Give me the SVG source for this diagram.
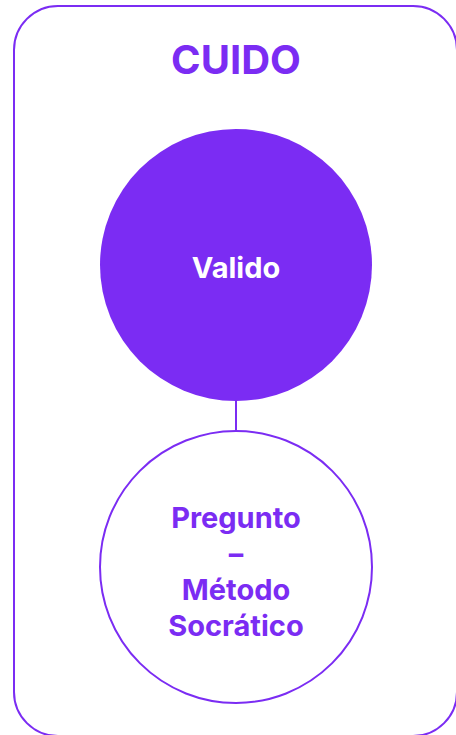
<svg xmlns="http://www.w3.org/2000/svg" width="456" height="735" viewBox="0 0 456 735">
<style>
.t{font-family:Inter,"Noto Sans","Liberation Sans",sans-serif;font-weight:700;text-anchor:middle}
.p{fill:#7b2cf3}
</style>
<rect width="456" height="735" fill="#ffffff"/>
<g id="frame">
<rect x="14" y="6" width="443" height="730" rx="44" ry="44" fill="none" stroke="#7b2cf3" stroke-width="2"/>
<text class="t p" x="236" y="74" font-size="40">CUIDO</text>
</g>
<g id="connectors">
<line x1="236" y1="400" x2="236" y2="431" stroke="#7b2cf3" stroke-width="2"/>
</g>
<g id="valido">
<circle cx="236" cy="265" r="136" fill="#7b2cf3"/>
<text class="t" x="236" y="278" font-size="29" fill="#ffffff">Valido</text>
</g>
<g id="pregunto">
<circle cx="236" cy="567" r="136" fill="#ffffff" stroke="#7b2cf3" stroke-width="2"/>
<text class="t p" font-size="29"><tspan x="236" y="528">Pregunto</tspan><tspan x="236" y="564">–</tspan><tspan x="236" y="600">Método</tspan><tspan x="236" y="636">Socrático</tspan></text>
</g>
</svg>
